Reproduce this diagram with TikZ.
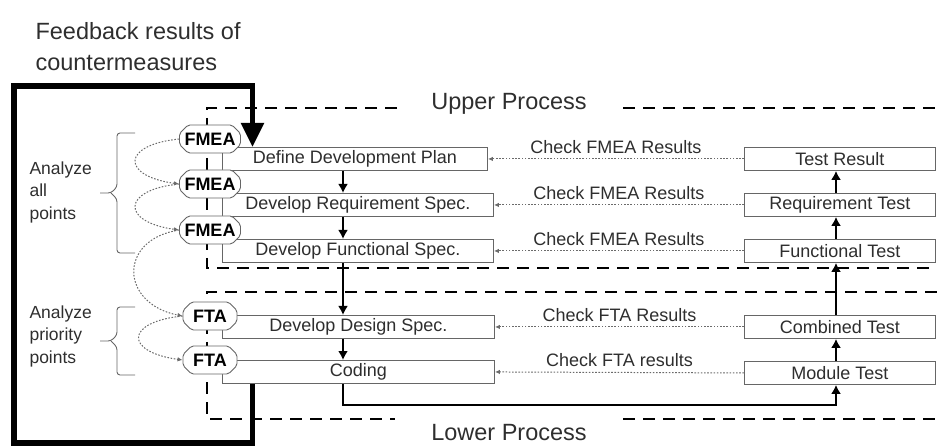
\documentclass[tikz,border=0pt]{standalone}
\usepackage{fontspec}
\setmainfont{Liberation Sans}
\usetikzlibrary{arrows.meta,shapes.misc}

\definecolor{boxline}{gray}{0.4}
\definecolor{boxtext}{gray}{0.18}
\definecolor{dotline}{gray}{0.42}

\begin{document}
\begin{tikzpicture}[x=1pt, y=-1pt,
  proc/.style={draw=boxline, fill=white, line width=0.9pt, minimum height=23pt, inner sep=0pt,
    text=boxtext, font=\fontsize{18}{20}\selectfont},
  tool/.style={chamfered rectangle, chamfered rectangle xsep=5pt, draw=boxline, fill=white,
    line width=0.9pt, rounded corners=2pt, minimum width=54pt, minimum height=28pt, inner sep=0pt,
    font=\bfseries\fontsize{18}{20}\selectfont},
  flow/.style={line width=2.4pt, -{Latex[length=9pt,width=10pt]}},
  feedback/.style={line width=5.5pt, -{Triangle[length=24pt,width=22pt]}},
  check/.style={dotline, line width=1pt, dash pattern=on 1.6pt off 1.6pt, -{Latex[length=5pt,width=4.5pt]}},
  zone/.style={line width=2.2pt, dash pattern=on 12pt off 8pt},
  bracket/.style={boxline, line width=0.9pt, rounded corners=3pt},
  big/.style={text=boxtext, align=left, font=\fontsize{23.5}{31}\selectfont},
  note/.style={text=boxtext, align=left, font=\fontsize{17.5}{22.5}\selectfont},
  lbl/.style={text=boxtext, inner sep=0pt, font=\fontsize{18}{20}\selectfont}]
\useasboundingbox (0,0) rectangle (937,446);

\node[big, anchor=north west](fbk) at(32,19){Feedback results of\\countermeasures};
\node[big](upper) at(509,104){Upper Process};
\node[big](lower) at(509,433){Lower Process};

% process boundaries
\draw[zone] (397,108) -- (207,108) -- (207,268) -- (937,268);
\draw[zone] (623,108) -- (937,108);
\draw[zone] (937,292) -- (207,292) -- (207,419) -- (395,419);
\draw[zone] (623,419) -- (937,419);

\coordinate(lx) at(343,0);
\coordinate(rx) at(836,0);
\coordinate(fb) at(252.5,0);
\coordinate(fbcorner) at(14,86);

% development steps
\node[proc, anchor=north west, minimum width=265pt](dplan) at(222,147){Define Development Plan};
\node[proc, anchor=north west, minimum width=271pt](dreq) at(222,193){Develop Requirement Spec.};
\node[proc, anchor=north west, minimum width=271pt](dfunc) at(222,239){Develop Functional Spec.};
\node[proc, anchor=north west, minimum width=272pt](ddesign) at(222,315){Develop Design Spec.};
\node[proc, anchor=north west, minimum width=272pt](coding) at(222,360){Coding};

% test steps
\node[proc, anchor=north west, minimum width=191pt](tres) at(744,147){Test Result};
\node[proc, anchor=north west, minimum width=191pt](treq) at(744,193){Requirement Test};
\node[proc, anchor=north west, minimum width=191pt](tfunc) at(744,239){Functional Test};
\node[proc, anchor=north west, minimum width=191pt](tcomb) at(744,315){Combined Test};
\node[proc, anchor=north west, minimum width=191pt](tmod) at(744,361){Module Test};

\node[tool](f1) at(210,139){FMEA};
\node[tool](f2) at(210,184){FMEA};
\node[tool](f3) at(210,230){FMEA};
\node[tool](t1) at(210,316){FTA};
\node[tool](t2) at(210,360){FTA};

\draw[flow] (dplan.south -| lx) -- (dreq.north -| lx);
\draw[flow] (dreq.south -| lx) -- (dfunc.north -| lx);
\draw[flow] (dfunc.south -| lx) -- (ddesign.north -| lx);
\draw[flow] (ddesign.south -| lx) -- (coding.north -| lx);
\draw[flow] (coding.south -| lx) -- ++(0,21) -| (tmod.south -| rx);
\draw[flow] (tmod.north -| rx) -- (tcomb.south -| rx);
\draw[flow] (tcomb.north -| rx) -- (tfunc.south -| rx);
\draw[flow] (tfunc.north -| rx) -- (treq.south -| rx);
\draw[flow] (treq.north -| rx) -- (tres.south -| rx);

\draw[feedback] (coding.south -| fb) -- ++(0,59) -| (fbcorner) -| (dplan.north -| fb);

\draw[check] (tres.west) -- (dplan.east) node[lbl, midway, above=5pt]{Check FMEA Results};
\draw[check] (treq.west) -- (dreq.east) node[lbl, midway, above=5pt]{Check FMEA Results};
\draw[check] (tfunc.west) -- (dfunc.east) node[lbl, midway, above=5pt]{Check FMEA Results};
\draw[check] (tcomb.west) -- (ddesign.east) node[lbl, midway, above=5pt]{Check FTA Results};
\draw[check] (tmod.west) -- (coding.east) node[lbl, midway, above=5pt]{Check FTA results};

\draw[check] (f1.west) .. controls +(-58,6) and +(-58,-8) .. (f2.west);
\draw[check] (f2.west) .. controls +(-58,6) and +(-58,-8) .. (f3.west);
\draw[check] (f3.west) .. controls +(-62,10) and +(-62,-12) .. (t1.west);
\draw[check] (t1.west) .. controls +(-58,6) and +(-58,-8) .. (t2.west);

\node[note, anchor=west](all) at(26,192){Analyze\\all\\points};
\node[note, anchor=west](prio) at(26,336){Analyze\\priority\\points};
\draw[bracket] (135,133) -- (117,133) -- (117,187) -- (111,193) -- (100,193);
\draw[bracket] (111,193) -- (117,199) -- (117,253) -- (135,253);
\draw[bracket] (135,307) -- (117,307) -- (117,335) -- (111,341) -- (100,341);
\draw[bracket] (111,341) -- (117,347) -- (117,375) -- (135,375);
\end{tikzpicture}
\end{document}
